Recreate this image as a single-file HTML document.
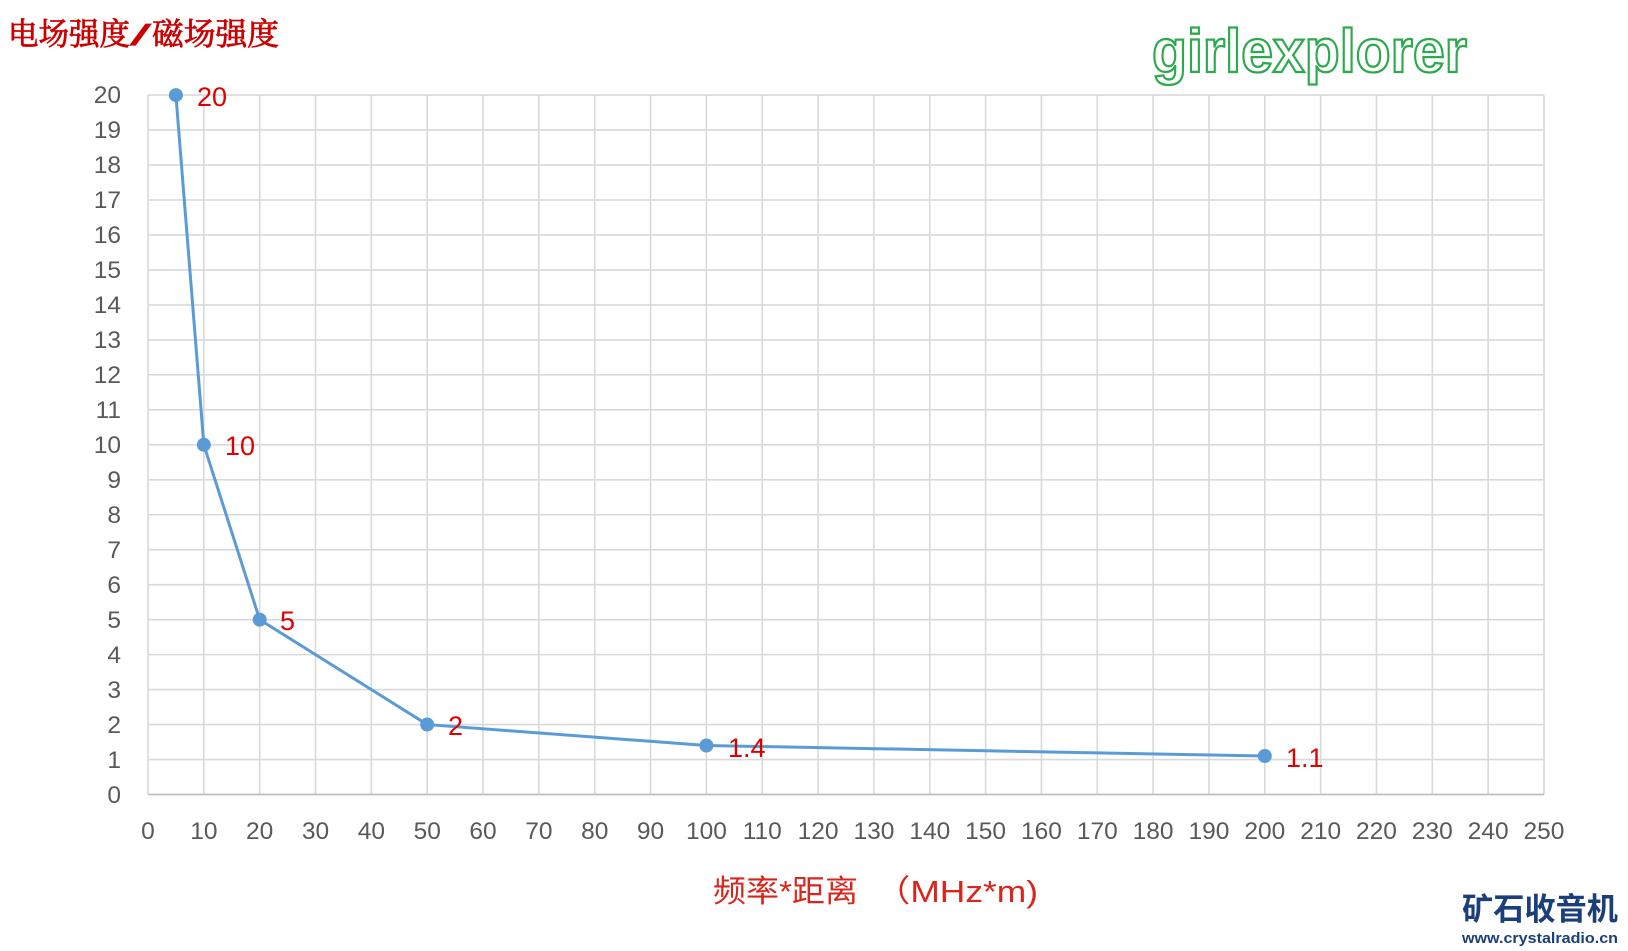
<!DOCTYPE html>
<html>
<head>
<meta charset="utf-8">
<style>
  html,body{margin:0;padding:0;background:#fff;}
  body{width:1628px;height:951px;overflow:hidden;}
  svg{display:block;}
</style>
</head>
<body>
<svg width="1628" height="951" viewBox="0 0 1628 951" xmlns="http://www.w3.org/2000/svg">
  <rect width="1628" height="951" fill="#fff"/>

  <!-- vertical grid -->
  <path fill="none" stroke="#d9d9d9" stroke-width="1.6" d="
    M203.84 95.1V794.5 M259.68 95.1V794.5 M315.52 95.1V794.5 M371.36 95.1V794.5 M427.2 95.1V794.5
    M483.04 95.1V794.5 M538.88 95.1V794.5 M594.72 95.1V794.5 M650.56 95.1V794.5 M706.4 95.1V794.5
    M762.24 95.1V794.5 M818.08 95.1V794.5 M873.92 95.1V794.5 M929.76 95.1V794.5 M985.6 95.1V794.5
    M1041.44 95.1V794.5 M1097.28 95.1V794.5 M1153.12 95.1V794.5 M1208.96 95.1V794.5 M1264.8 95.1V794.5
    M1320.64 95.1V794.5 M1376.48 95.1V794.5 M1432.32 95.1V794.5 M1488.16 95.1V794.5 M1544 95.1V794.5
    M148 95.1V794.5"/>
  <!-- horizontal grid -->
  <path fill="none" stroke="#d9d9d9" stroke-width="1.6" d="
    M148 759.53H1544 M148 724.56H1544 M148 689.59H1544 M148 654.62H1544 M148 619.65H1544
    M148 584.68H1544 M148 549.71H1544 M148 514.74H1544 M148 479.77H1544 M148 444.8H1544
    M148 409.83H1544 M148 374.86H1544 M148 339.89H1544 M148 304.92H1544 M148 269.95H1544
    M148 234.98H1544 M148 200.01H1544 M148 165.04H1544 M148 130.07H1544 M148 95.1H1544"/>
  <!-- x axis line -->
  <path fill="none" stroke="#bfbfbf" stroke-width="1.8" d="M148 794.5H1544"/>

  <!-- Y tick labels -->
  <g font-family="Liberation Sans, sans-serif" font-size="24.5" fill="#595959" text-anchor="end">
    <text x="121" y="803">0</text>
    <text x="121" y="768">1</text>
    <text x="121" y="733">2</text>
    <text x="121" y="698">3</text>
    <text x="121" y="663">4</text>
    <text x="121" y="628">5</text>
    <text x="121" y="593">6</text>
    <text x="121" y="558">7</text>
    <text x="121" y="523">8</text>
    <text x="121" y="488">9</text>
    <text x="121" y="453">10</text>
    <text x="121" y="418">11</text>
    <text x="121" y="383">12</text>
    <text x="121" y="348">13</text>
    <text x="121" y="313">14</text>
    <text x="121" y="278">15</text>
    <text x="121" y="243">16</text>
    <text x="121" y="208">17</text>
    <text x="121" y="173">18</text>
    <text x="121" y="138">19</text>
    <text x="121" y="103">20</text>
  </g>

  <!-- X tick labels -->
  <g font-family="Liberation Sans, sans-serif" font-size="24.5" fill="#595959" text-anchor="middle">
    <text x="148" y="839">0</text>
    <text x="203.84" y="839">10</text>
    <text x="259.68" y="839">20</text>
    <text x="315.52" y="839">30</text>
    <text x="371.36" y="839">40</text>
    <text x="427.2" y="839">50</text>
    <text x="483.04" y="839">60</text>
    <text x="538.88" y="839">70</text>
    <text x="594.72" y="839">80</text>
    <text x="650.56" y="839">90</text>
    <text x="706.4" y="839">100</text>
    <text x="762.24" y="839">110</text>
    <text x="818.08" y="839">120</text>
    <text x="873.92" y="839">130</text>
    <text x="929.76" y="839">140</text>
    <text x="985.6" y="839">150</text>
    <text x="1041.44" y="839">160</text>
    <text x="1097.28" y="839">170</text>
    <text x="1153.12" y="839">180</text>
    <text x="1208.96" y="839">190</text>
    <text x="1264.8" y="839">200</text>
    <text x="1320.64" y="839">210</text>
    <text x="1376.48" y="839">220</text>
    <text x="1432.32" y="839">230</text>
    <text x="1488.16" y="839">240</text>
    <text x="1544" y="839">250</text>
  </g>

  <!-- series line -->
  <polyline fill="none" stroke="#5b9bd5" stroke-width="3" stroke-linejoin="round"
    points="175.9,95.1 203.84,444.8 259.68,619.65 427.2,724.56 706.4,745.5 1264.8,756.0"/>
  <g fill="#5b9bd5">
    <circle cx="175.9" cy="95.1" r="7"/>
    <circle cx="203.84" cy="444.8" r="7"/>
    <circle cx="259.68" cy="619.65" r="7"/>
    <circle cx="427.2" cy="724.56" r="7"/>
    <circle cx="706.4" cy="745.5" r="7"/>
    <circle cx="1264.8" cy="756.0" r="7"/>
  </g>

  <!-- data labels -->
  <g font-family="Liberation Sans, sans-serif" font-size="27" fill="#e00000">
    <text x="197" y="106">20</text>
    <text x="225" y="455">10</text>
    <text x="280" y="630">5</text>
    <text x="448" y="735">2</text>
    <text x="728" y="757">1.4</text>
    <text x="1286" y="767">1.1</text>
  </g>

  <!-- Y axis title -->
  <g fill="#cc0000" font-size="31" stroke="#cc0000" stroke-width="0.8">
    <text x="8" y="45" font-family="Liberation Serif, Noto Serif CJK SC, serif" textLength="122" lengthAdjust="spacingAndGlyphs">电场强度</text>
    <text x="131" y="45" font-family="Liberation Serif, serif" font-weight="bold" font-size="32" textLength="19" lengthAdjust="spacingAndGlyphs">/</text>
    <text x="152" y="45" font-family="Liberation Serif, Noto Serif CJK SC, serif" textLength="127" lengthAdjust="spacingAndGlyphs">磁场强度</text>
  </g>

  <!-- X axis title -->
  <g fill="#d9261c" font-family="Liberation Sans, Noto Sans CJK SC, sans-serif" font-size="31">
    <text x="713" y="902" textLength="145" lengthAdjust="spacingAndGlyphs">频率*距离</text>
    <text x="875" y="902" textLength="163" lengthAdjust="spacingAndGlyphs">（MHz*m)</text>
  </g>

  <!-- girlexplorer logo -->
  <text x="1152" y="72" font-family="Liberation Sans, sans-serif" font-weight="bold" font-size="61"
        fill="#ffffff" stroke="#2eaa4e" stroke-width="2.3" textLength="315" lengthAdjust="spacingAndGlyphs">girlexplorer</text>

  <!-- bottom right logo -->
  <text x="1462" y="920" font-family="Liberation Sans, Noto Sans CJK SC, sans-serif" font-weight="bold" font-size="31"
        fill="#1b3f7a" textLength="156" lengthAdjust="spacingAndGlyphs">矿石收音机</text>
  <text x="1462" y="943" font-family="Liberation Sans, sans-serif" font-weight="bold" font-size="14.5"
        fill="#1b3f7a" textLength="156" lengthAdjust="spacingAndGlyphs">www.crystalradio.cn</text>
</svg>
</body>
</html>
